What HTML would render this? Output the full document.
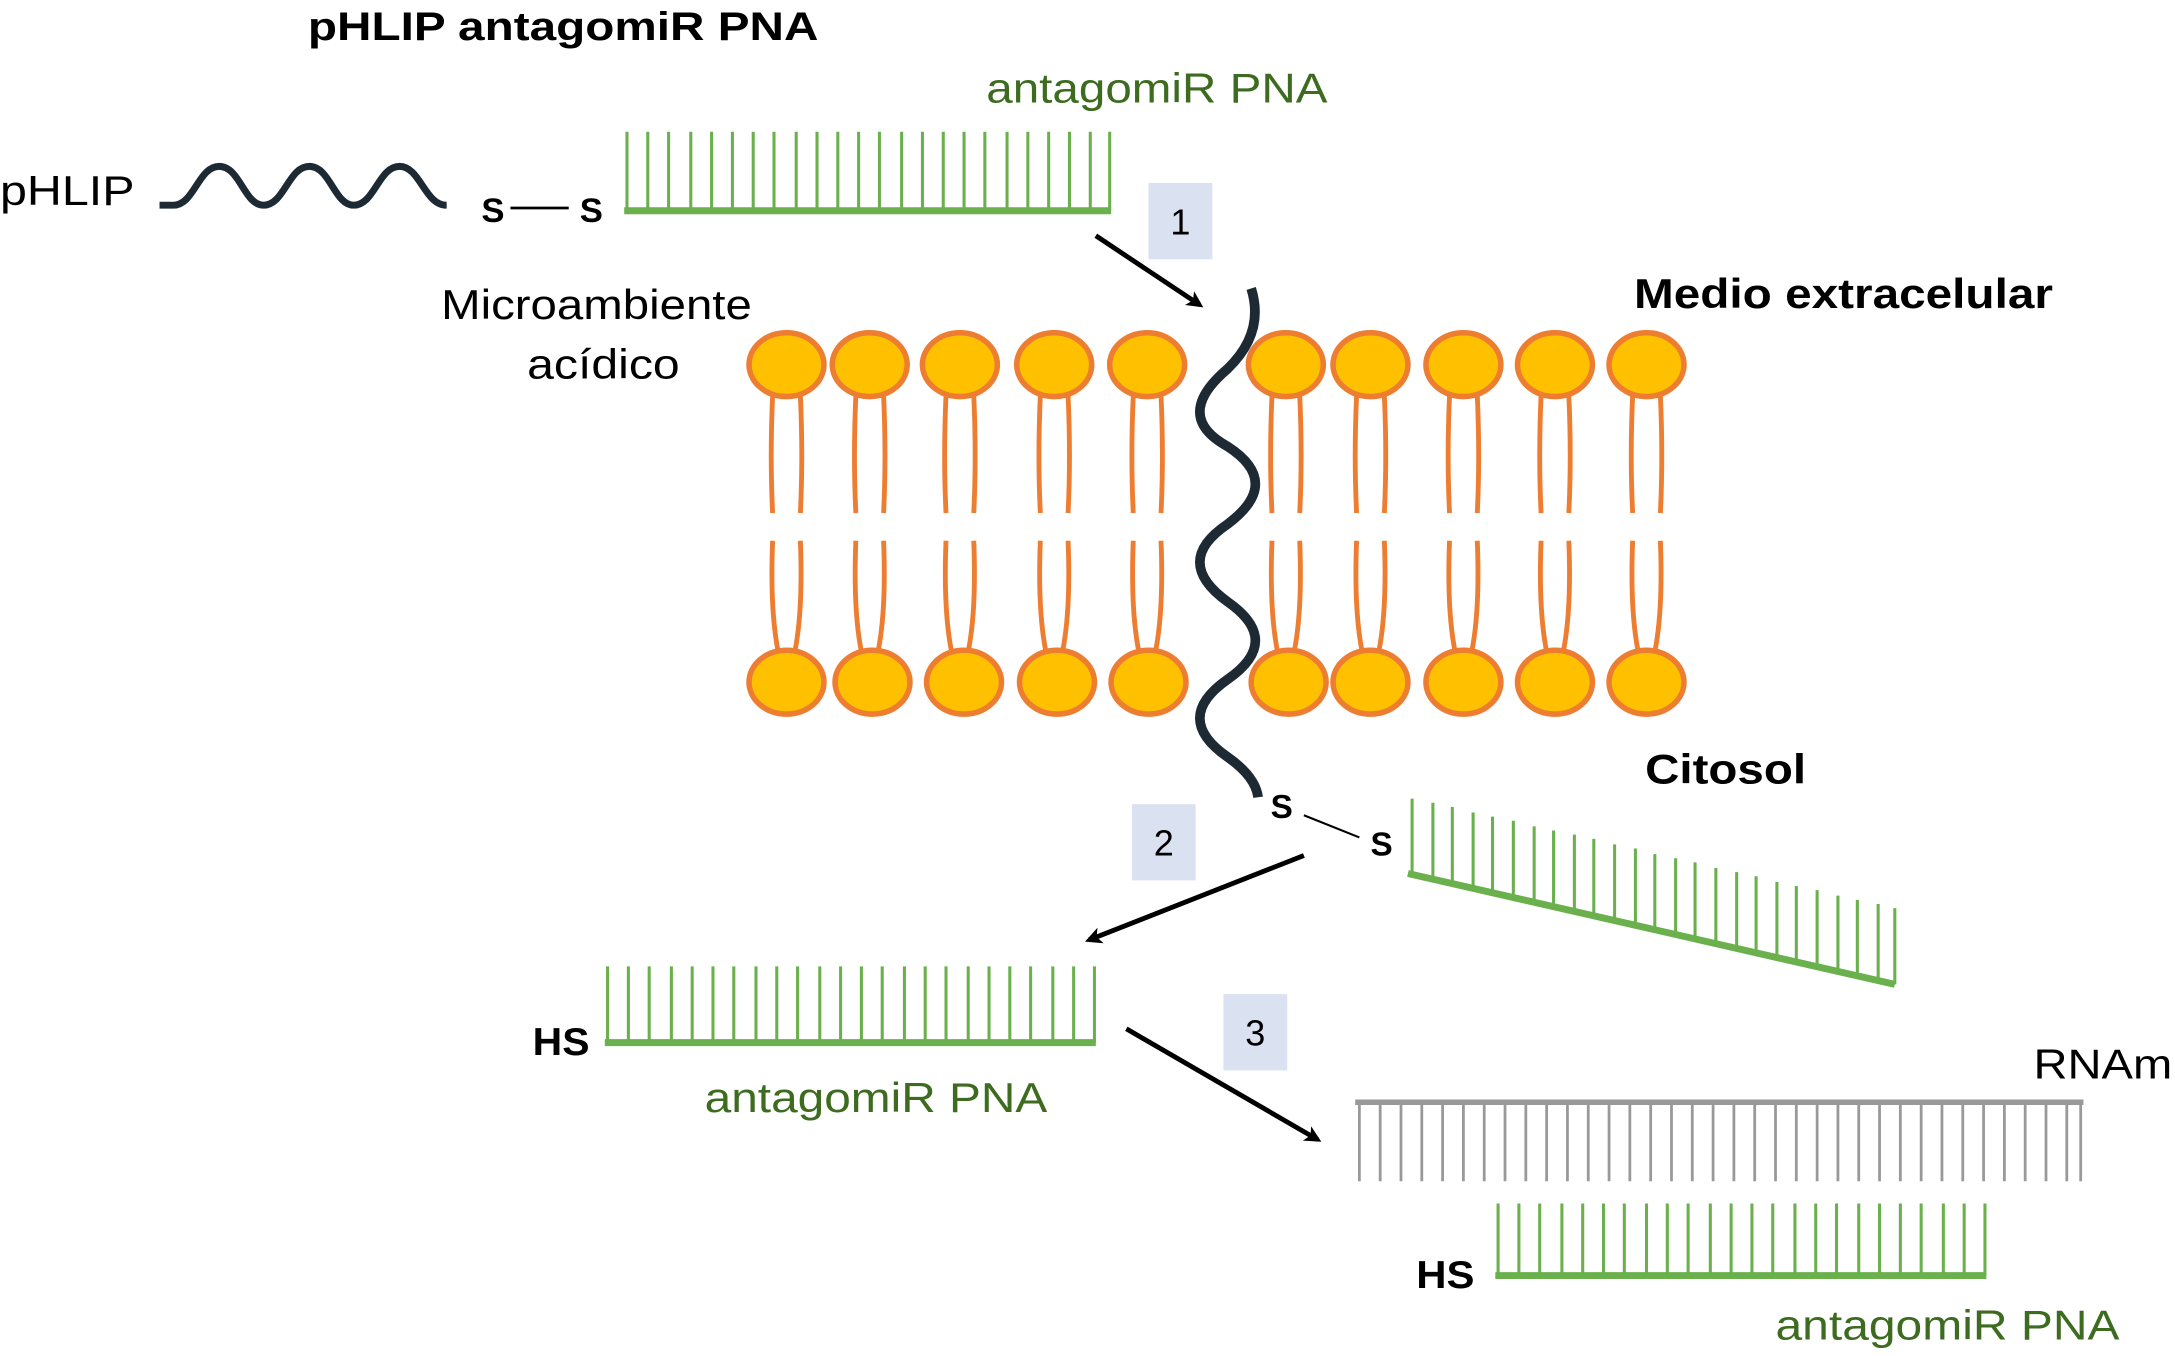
<!DOCTYPE html>
<html><head><meta charset="utf-8"><style>
html,body{margin:0;padding:0;background:#fff;}
svg{display:block;}
text{font-family:"Liberation Sans",Arial,sans-serif;}
</style></head><body>
<svg width="2175" height="1356" viewBox="0 0 1568 978" preserveAspectRatio="none" xmlns="http://www.w3.org/2000/svg">
<defs>
<marker id="ah" markerWidth="12" markerHeight="12" refX="9" refY="6" orient="auto" markerUnits="userSpaceOnUse"><path d="M0,0 L12,6 L0,12 L3,6 z" fill="#000"/></marker>
</defs>
<rect width="1568" height="978" fill="#fff"/>
<text x="222" y="29" font-size="29" font-weight="bold" textLength="368" lengthAdjust="spacingAndGlyphs">pHLIP antagomiR PNA</text>
<text x="711" y="74" font-size="30" fill="#3d6b1f" textLength="246" lengthAdjust="spacingAndGlyphs">antagomiR PNA</text>
<text x="0" y="148" font-size="30" textLength="97" lengthAdjust="spacingAndGlyphs">pHLIP</text>
<path d="M115 148 L125 148 C140 148 143 120 158 120 C173 120 176 148 190 148 C205 148 208 120 223 120 C238 120 241 148 255 148 C270 148 273 120 288 120 C303 120 306 148 322 148" fill="none" stroke="#1e2a33" stroke-width="5"/>
<text x="347" y="160" font-size="25" font-weight="bold">S</text>
<line x1="368" y1="150" x2="410" y2="150" stroke="#000" stroke-width="2"/>
<text x="418" y="160" font-size="25" font-weight="bold">S</text>
<g stroke="#6ab04c" stroke-width="2.2">
<path d="M452 152V95M467 152V95M482 152V95M498 152V95M513 152V95M528 152V95M543 152V95M558 152V95M574 152V95M589 152V95M604 152V95M619 152V95M634 152V95M650 152V95M665 152V95M680 152V95M695 152V95M710 152V95M726 152V95M741 152V95M756 152V95M771 152V95M786 152V95M800 152V95"/>
<line x1="450" y1="152" x2="801" y2="152" stroke-width="5"/>
</g>
<rect x="828" y="132" width="46" height="55" fill="#dae1f0"/>
<text x="851" y="169" font-size="26" text-anchor="middle">1</text>
<line x1="790" y1="170" x2="865" y2="220" stroke="#000" stroke-width="3.5" marker-end="url(#ah)"/>
<text x="318" y="230" font-size="30" textLength="224" lengthAdjust="spacingAndGlyphs">Microambiente</text>
<text x="380" y="273" font-size="30" textLength="110" lengthAdjust="spacingAndGlyphs">acídico</text>
<text x="1178" y="222" font-size="30" font-weight="bold" textLength="302" lengthAdjust="spacingAndGlyphs">Medio extracelular</text>
<g stroke="#ed7d31" stroke-width="3.5" fill="none">
<path d="M557 285 Q555 330 557 370M577 285 Q579 330 577 370 M617 285 Q615 330 617 370M637 285 Q639 330 637 370 M682 285 Q680 330 682 370M702 285 Q704 330 702 370 M750 285 Q748 330 750 370M770 285 Q772 330 770 370 M817 285 Q815 330 817 370M837 285 Q839 330 837 370 M917 285 Q915 330 917 370M937 285 Q939 330 937 370 M978 285 Q976 330 978 370M998 285 Q1000 330 998 370 M1045 285 Q1043 330 1045 370M1065 285 Q1067 330 1065 370 M1111 285 Q1109 330 1111 370M1131 285 Q1133 330 1131 370 M1177 285 Q1175 330 1177 370M1197 285 Q1199 330 1197 370"/>
<path d="M557 390 Q555 440 561 470M577 390 Q579 440 573 470 M617 390 Q615 440 621 470M637 390 Q639 440 633 470 M682 390 Q680 440 686 470M702 390 Q704 440 698 470 M750 390 Q748 440 754 470M770 390 Q772 440 766 470 M817 390 Q815 440 821 470M837 390 Q839 440 833 470 M917 390 Q915 440 921 470M937 390 Q939 440 933 470 M978 390 Q976 440 982 470M998 390 Q1000 440 994 470 M1045 390 Q1043 440 1049 470M1065 390 Q1067 440 1061 470 M1111 390 Q1109 440 1115 470M1131 390 Q1133 440 1127 470 M1177 390 Q1175 440 1181 470M1197 390 Q1199 440 1193 470"/>
</g>
<g fill="#ffc000" stroke="#ed7d31" stroke-width="4">
<ellipse cx="567" cy="263" rx="27" ry="23"/><ellipse cx="627" cy="263" rx="27" ry="23"/><ellipse cx="692" cy="263" rx="27" ry="23"/><ellipse cx="760" cy="263" rx="27" ry="23"/><ellipse cx="827" cy="263" rx="27" ry="23"/><ellipse cx="927" cy="263" rx="27" ry="23"/><ellipse cx="988" cy="263" rx="27" ry="23"/><ellipse cx="1055" cy="263" rx="27" ry="23"/><ellipse cx="1121" cy="263" rx="27" ry="23"/><ellipse cx="1187" cy="263" rx="27" ry="23"/>
<ellipse cx="567" cy="492" rx="27" ry="23"/><ellipse cx="629" cy="492" rx="27" ry="23"/><ellipse cx="695" cy="492" rx="27" ry="23"/><ellipse cx="762" cy="492" rx="27" ry="23"/><ellipse cx="828" cy="492" rx="27" ry="23"/><ellipse cx="929" cy="492" rx="27" ry="23"/><ellipse cx="988" cy="492" rx="27" ry="23"/><ellipse cx="1055" cy="492" rx="27" ry="23"/><ellipse cx="1121" cy="492" rx="27" ry="23"/><ellipse cx="1187" cy="492" rx="27" ry="23"/>
</g>
<path d="M902 208 Q912 240 885 266 Q845 300 885 322 Q925 348 885 378 Q845 405 885 434 Q925 462 885 490 Q845 518 885 546 Q905 560 907 575" fill="none" stroke="#1e2a33" stroke-width="7"/>
<text x="1186" y="565" font-size="30" font-weight="bold" textLength="116" lengthAdjust="spacingAndGlyphs">Citosol</text>
<text x="916" y="590" font-size="24" font-weight="bold">S</text>
<line x1="940" y1="588" x2="980" y2="604" stroke="#000" stroke-width="1.5"/>
<text x="988" y="617" font-size="24" font-weight="bold">S</text>
<g stroke="#6ab04c" stroke-width="2.2">
<path d="M1018 631V576M1033 634V579M1047 637V582M1062 641V586M1076 644V589M1091 647V592M1106 651V596M1120 654V599M1135 657V602M1149 660V605M1164 664V609M1179 667V612M1193 671V616M1208 674V619M1222 677V622M1237 681V626M1252 684V629M1266 687V632M1281 691V636M1295 694V639M1310 697V642M1325 701V646M1339 704V649M1354 707V652M1366 710V655"/>
<line x1="1015" y1="630" x2="1366" y2="710" stroke-width="5"/>
</g>
<rect x="816" y="580" width="46" height="55" fill="#dae1f0"/>
<text x="839" y="617" font-size="26" text-anchor="middle">2</text>
<line x1="940" y1="617" x2="785" y2="678" stroke="#000" stroke-width="3.5" marker-end="url(#ah)"/>
<g stroke="#6ab04c" stroke-width="2.2">
<path d="M438 752V697M453 752V697M468 752V697M484 752V697M499 752V697M514 752V697M529 752V697M545 752V697M560 752V697M575 752V697M591 752V697M606 752V697M621 752V697M636 752V697M652 752V697M667 752V697M682 752V697M698 752V697M713 752V697M728 752V697M743 752V697M759 752V697M774 752V697M789 752V697"/>
<line x1="436" y1="752" x2="790" y2="752" stroke-width="5"/>
</g>
<text x="384" y="761" font-size="28" font-weight="bold" textLength="41" lengthAdjust="spacingAndGlyphs">HS</text>
<text x="508" y="802" font-size="30" fill="#3d6b1f" textLength="247" lengthAdjust="spacingAndGlyphs">antagomiR PNA</text>
<rect x="882" y="717" width="46" height="55" fill="#dae1f0"/>
<text x="905" y="754" font-size="26" text-anchor="middle">3</text>
<line x1="812" y1="742" x2="950" y2="822" stroke="#000" stroke-width="3.5" marker-end="url(#ah)"/>
<text x="1466" y="778" font-size="30" textLength="100" lengthAdjust="spacingAndGlyphs">RNAm</text>
<g stroke="#999" stroke-width="2">
<path d="M980 795V852M995 795V852M1010 795V852M1025 795V852M1040 795V852M1055 795V852M1070 795V852M1085 795V852M1100 795V852M1115 795V852M1130 795V852M1145 795V852M1160 795V852M1175 795V852M1190 795V852M1205 795V852M1220 795V852M1235 795V852M1250 795V852M1265 795V852M1280 795V852M1295 795V852M1310 795V852M1325 795V852M1340 795V852M1355 795V852M1370 795V852M1385 795V852M1400 795V852M1415 795V852M1430 795V852M1445 795V852M1460 795V852M1475 795V852M1490 795V852M1500 795V852"/>
<line x1="977" y1="795" x2="1502" y2="795" stroke-width="4"/>
</g>
<g stroke="#6ab04c" stroke-width="2.2">
<path d="M1080 920V868M1095 920V868M1110 920V868M1126 920V868M1141 920V868M1156 920V868M1171 920V868M1187 920V868M1202 920V868M1217 920V868M1233 920V868M1248 920V868M1263 920V868M1278 920V868M1294 920V868M1309 920V868M1324 920V868M1340 920V868M1355 920V868M1370 920V868M1385 920V868M1401 920V868M1416 920V868M1431 920V868"/>
<line x1="1078" y1="920" x2="1432" y2="920" stroke-width="5"/>
</g>
<text x="1021" y="929" font-size="28" font-weight="bold" textLength="42" lengthAdjust="spacingAndGlyphs">HS</text>
<text x="1280" y="966" font-size="30" fill="#3d6b1f" textLength="248" lengthAdjust="spacingAndGlyphs">antagomiR PNA</text>
</svg>
</body></html>
